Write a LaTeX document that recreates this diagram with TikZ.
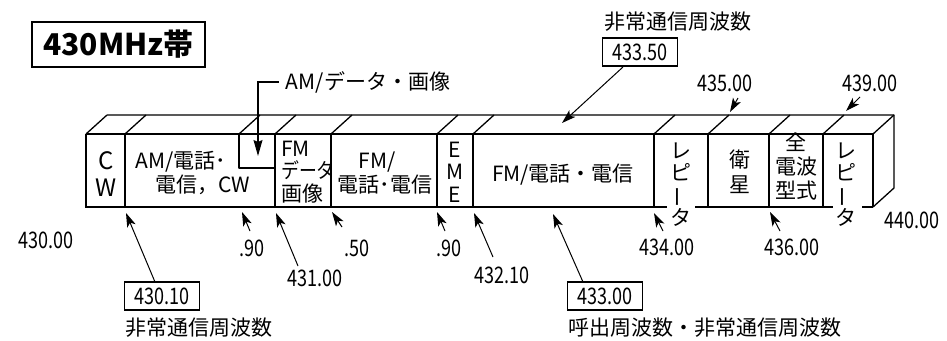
\documentclass[tikz,border=0pt]{standalone}
\usepackage{fontspec}
\setmainfont{Noto Sans CJK JP}
\usetikzlibrary{arrows.meta,calc}
\newcommand{\vbar}{\rotatebox[origin=c]{90}{ー}}
\newcommand{\nm}[1]{\scalebox{0.95}[1.2]{#1}}
\begin{document}
\begin{tikzpicture}[x=1pt,y=-1pt,
  band/.style={line width=1.3pt, line join=round},
  arr/.style={line width=1pt, -{Stealth[length=14pt,width=9pt,inset=3.5pt]}},
  jp/.style={font=\fontsize{21}{23}\selectfont, inner sep=1pt},
  num/.style={font=\fontsize{19}{22}\selectfont, inner sep=1pt},
  numbox/.style={num, draw, line width=1.1pt, minimum width=75pt, minimum height=28pt, inner sep=2pt}
]
\fill[white] (0,0) rectangle (947,340);
\useasboundingbox (0,0) rectangle (947,340);

% title
\node[draw, line width=1.3pt, minimum width=173pt, minimum height=45pt,
      font=\fontsize{30}{32}\selectfont\bfseries] (title) at (118.5,44.5) {430MHz帯};

% band
\foreach \x in {86,125,239,275,331,437,473,654,708,769,823,873}
  \draw[band] (\x,134) -- (\x+21,115);
\foreach \x in {86,125,275,331,437,473,654,708,769,823,873}
  \draw[band] (\x,134) -- (\x,207);
\draw[band] (86,134) -- (873,134);
\draw[band] (107,115) -- (894,115) -- (894,188) -- (873,207);
\draw[line width=1.8pt] (85,207) -- (667,207) (695,207) -- (833,207) (862,207) -- (873,207);
\draw[band] (239,134) -- (239,168) -- (275,168);

% segment texts
\node[jp, font=\fontsize{24}{27}\selectfont, align=center] (cw) at (106,174) {C\\W};
\node[jp] (am1) at (181,162) {AM/電話･};
\node[jp] (am2) at (203,185) {電信，CW};
\node[jp, align=left, anchor=west, font=\fontsize{21}{22.5}\selectfont] (fmd) at (280,172) {FM\\\scalebox{0.85}[1]{データ}\\画像};
\node[jp] (fm1) at (377,162) {FM/};
\node[jp] (fm2) at (385,185) {電話･電信};
\node[jp, align=center, font=\fontsize{21}{22.5}\selectfont] (eme) at (455,172) {E\\M\\E};
\node[jp] (fm3) at (563,175) {FM/電話・電信};
\node[jp, align=center, font=\fontsize{21}{21.5}\selectfont] (rep1) at (681,185) {レ\\ピ\\\vbar\\タ};
\node[jp, align=center, font=\fontsize{21}{25}\selectfont] (sat) at (740,172) {衛\\星};
\node[jp, align=center, font=\fontsize{21}{24}\selectfont] (zen) at (796,167) {全\\電波\\型式};
\node[jp, align=center, font=\fontsize{21}{21.5}\selectfont] (rep2) at (846,185) {レ\\ピ\\\vbar\\タ};

% tips
\coordinate (p4301) at (126,213);
\coordinate (p90a) at (242,212);
\coordinate (p431) at (276,213);
\coordinate (p50) at (332,212);
\coordinate (p90b) at (437,212);
\coordinate (p4321) at (474,213);
\coordinate (p433) at (553,214);
\coordinate (p434) at (654,213);
\coordinate (p436) at (770,212);
\coordinate (p435) at (730,112);
\coordinate (p439) at (846,111);
\coordinate (p4335) at (562,123);
\coordinate (amcorner) at (258,80);
\coordinate (amtip) at (258,156);

% labels
\node[num] (l430) at (46,240) {\nm{430.00}};
\node[numbox] (b4301) at (162,296) {\nm{430.10}};
\node[jp] (e1) at (199,328) {非常通信周波数};
\node[num] (l90a) at (252,248) {\nm{.90}};
\node[num] (l431) at (315,278) {\nm{431.00}};
\node[num] (l50) at (357,248) {\nm{.50}};
\node[num] (l90b) at (449,248) {\nm{.90}};
\node[num] (l4321) at (502,275) {\nm{432.10}};
\node[numbox] (b433) at (605,296) {\nm{433.00}};
\node[jp] (e2) at (705,328) {呼出周波数・非常通信周波数};
\node[num] (l434) at (667,247) {\nm{434.00}};
\node[num] (l436) at (792,247) {\nm{436.00}};
\node[num] (l440) at (912,220) {\nm{440.00}};
\node[num] (l435) at (725,83) {\nm{435.00}};
\node[num] (l439) at (870,83) {\nm{439.00}};
\node[numbox] (b4335) at (640,52) {\nm{433.50}};
\node[jp] (e3) at (678,22) {非常通信周波数};
\node[jp] (amlbl) at (368,82) {AM/データ・画像};

% arrows
\draw[arr] ($(b4301.center)+(-7,-14)$) -- (p4301);
\draw[arr] ($(l90a.center)+(-2,-17)$) -- (p90a);
\draw[arr] ($(l431.center)+(-17,-12)$) -- (p431);
\draw[arr] ($(l50.center)+(-15,-21)$) -- (p50);
\draw[arr] ($(l90b.center)+(-4,-17)$) -- (p90b);
\draw[arr] ($(l4321.center)+(-9,-18)$) -- (p4321);
\draw[arr] ($(b433.center)+(-22,-14)$) -- (p433);
\draw[arr] ($(l434.center)+(-4,-16)$) -- (p434);
\draw[arr] ($(l436.center)+(-12,-16)$) -- (p436);
\draw[arr] ($(l435.center)+(13,15)$) -- (p435);
\draw[arr] ($(l439.center)+(-10,14)$) -- (p439);
\draw[arr] ($(b4335.center)+(-17,15)$) -- (p4335);
\draw[line width=1.1pt, shorten <=6pt, -{Stealth[length=16pt,width=9pt,inset=2pt]}] (amlbl.west) -- (amlbl.west -| amcorner) -- (amtip);
\end{tikzpicture}
\end{document}
